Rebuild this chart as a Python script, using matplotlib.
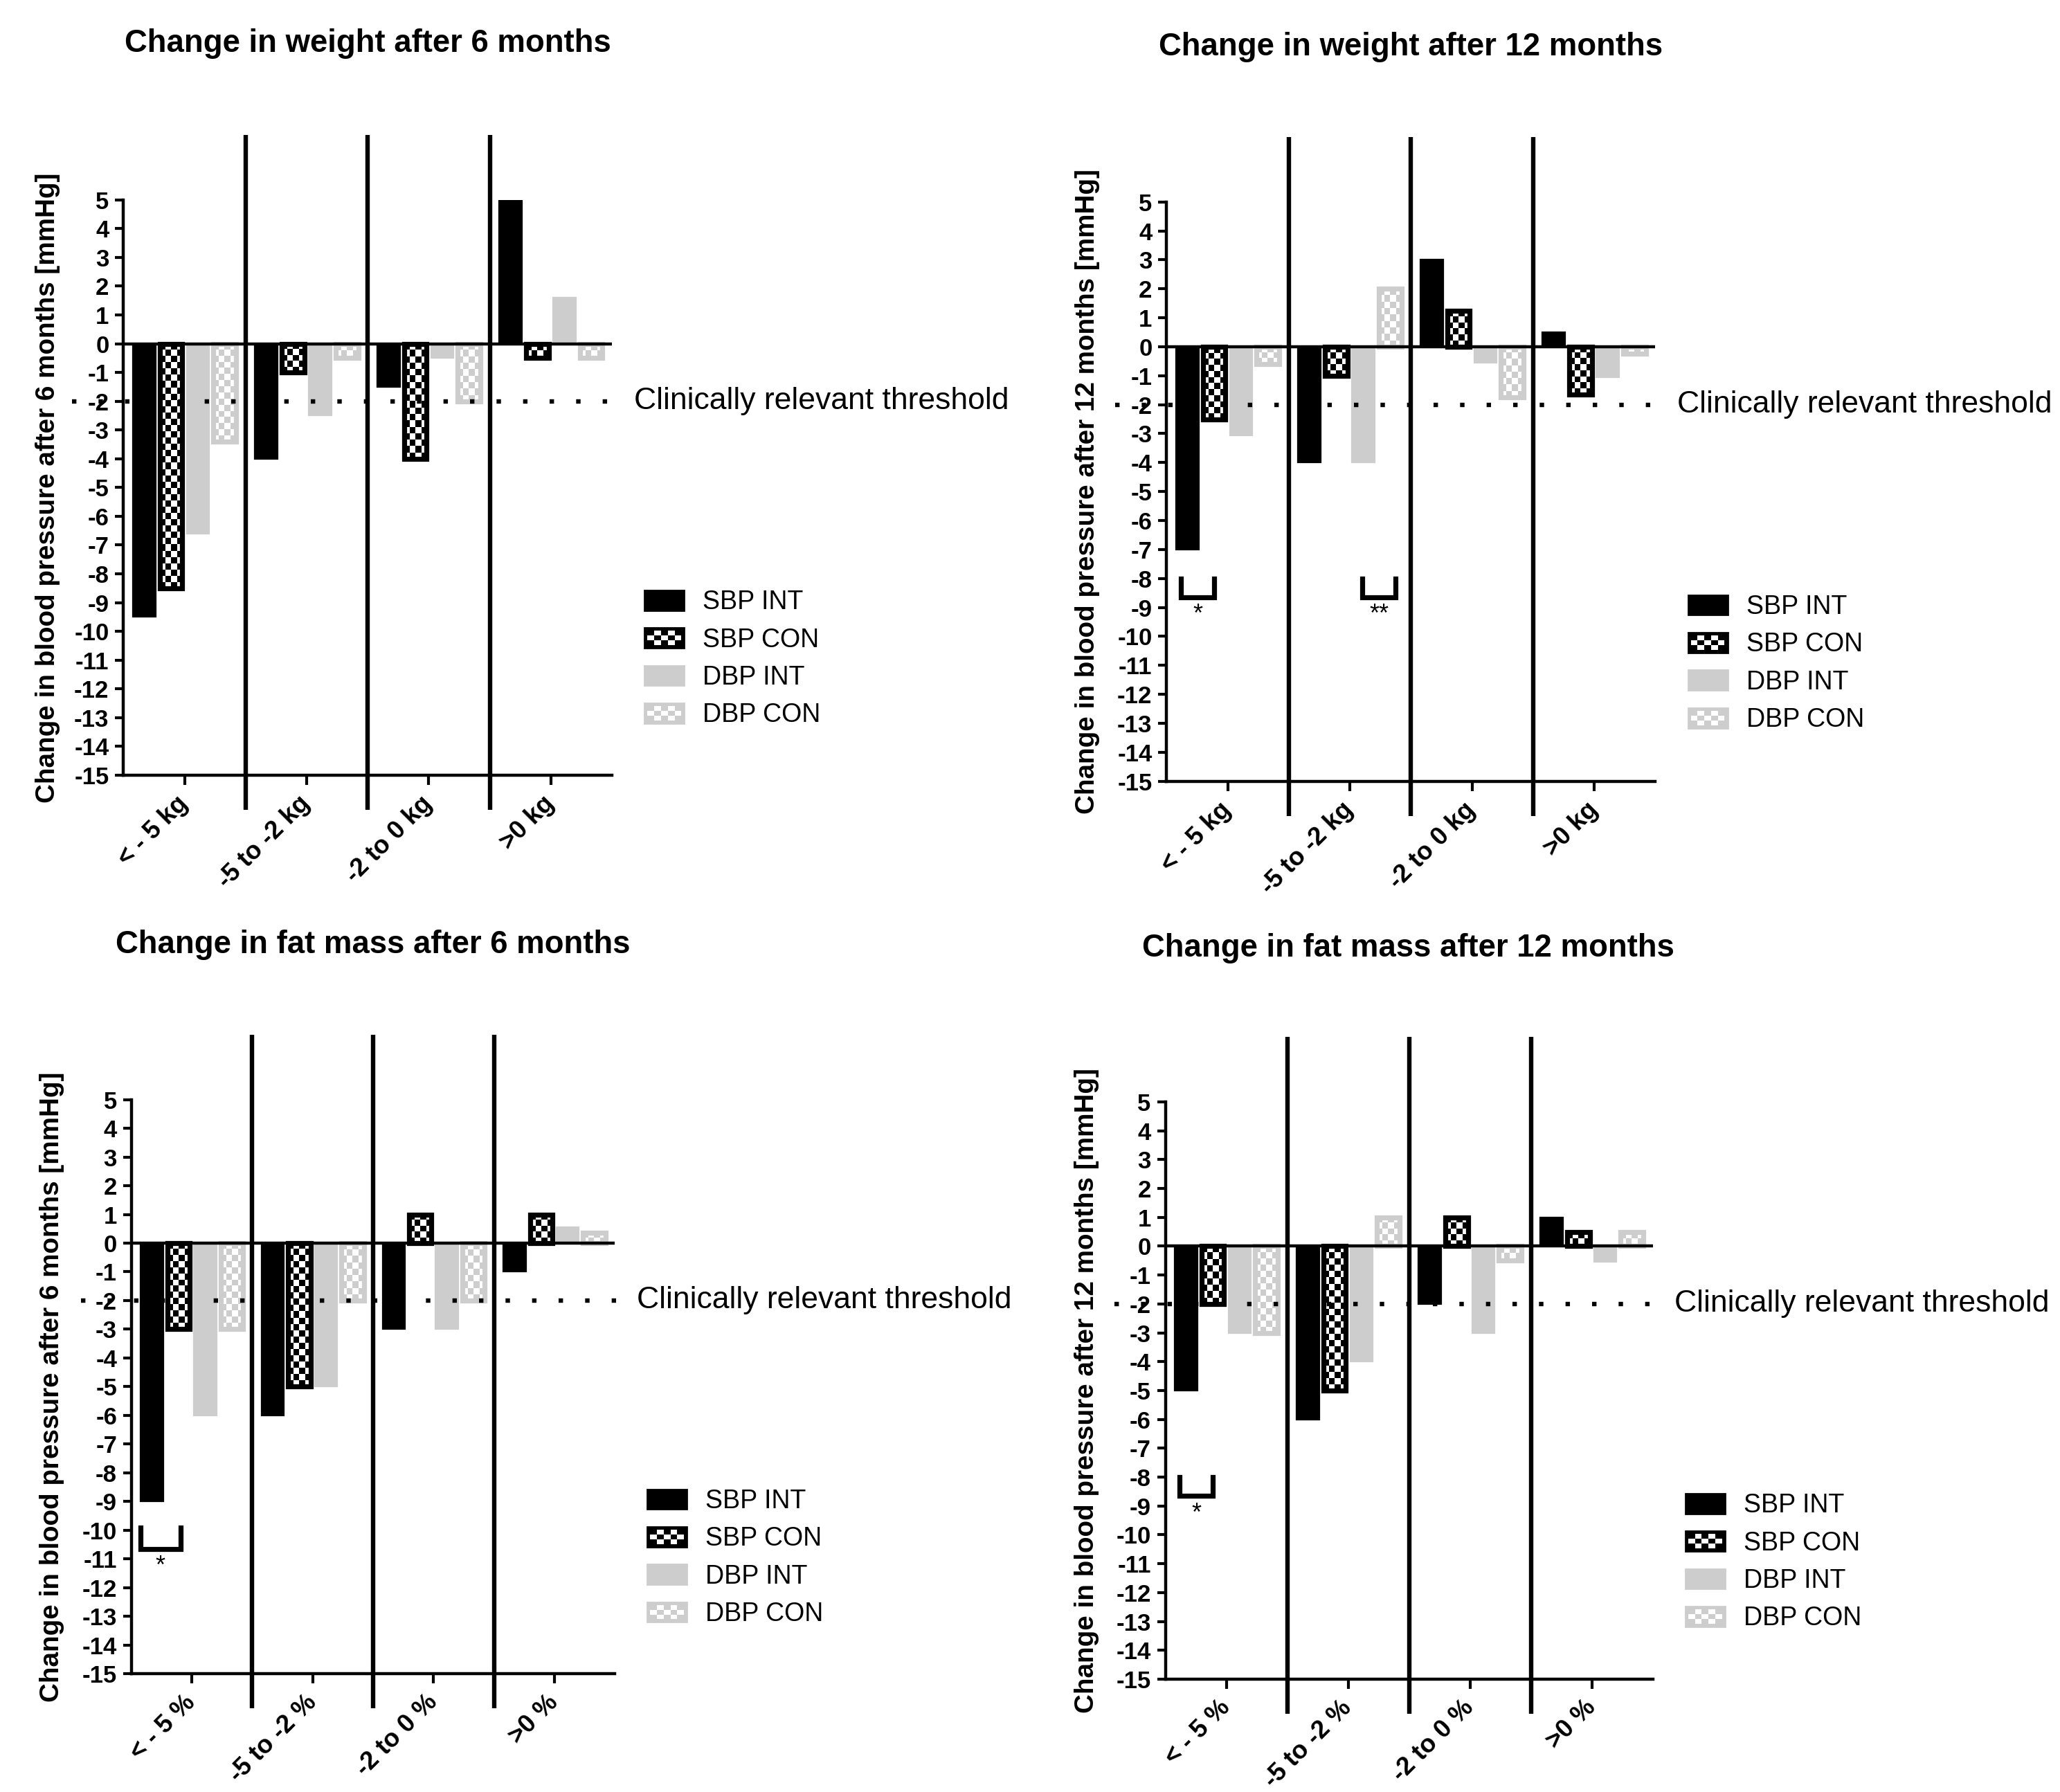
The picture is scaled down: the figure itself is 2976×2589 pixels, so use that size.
import numpy as np
import matplotlib
matplotlib.use("Agg")
import matplotlib.pyplot as plt
from matplotlib.colors import ListedColormap
from matplotlib.patches import Patch, Rectangle
from matplotlib.legend_handler import HandlerBase
from matplotlib.transforms import blended_transform_factory

plt.rcParams['font.family'] = ['Liberation Sans', 'DejaVu Sans']

# ---- data ----
series = ["SBP INT", "SBP CON", "DBP INT", "DBP CON"]
groups_kg = ["< - 5 kg", "-5 to -2 kg", "-2 to 0 kg", ">0 kg"]
groups_pct = ["< - 5 %", "-5 to -2 %", "-2 to 0 %", ">0 %"]

w6_sbp_int = [-9.5, -4, -1.5, 5]
w6_sbp_con = [-8.5, -1, -4, -0.5]
w6_dbp_int = [-6.6, -2.5, -0.5, 1.6]
w6_dbp_con = [-3.4, -0.5, -2, -0.5]

w12_sbp_int = [-7, -4, 3, 0.5]
w12_sbp_con = [-2.5, -1, 1.25, -1.65]
w12_dbp_int = [-3.05, -4, -0.55, -1.05]
w12_dbp_con = [-0.6, 2, -1.75, -0.25]

f6_sbp_int = [-9, -6, -3, -1]
f6_sbp_con = [-3, -5, 1, 1]
f6_dbp_int = [-6, -5, -3, 0.55]
f6_dbp_con = [-3, -2, -2, 0.35]

f12_sbp_int = [-5, -6, -2, 1]
f12_sbp_con = [-2, -5, 1, 0.5]
f12_dbp_int = [-3, -4, -3, -0.55]
f12_dbp_con = [-3, 1, -0.5, 0.5]

threshold = -2
threshold_label = "Clinically relevant threshold"

BLACK = "#000000"
GREY = "#cdcdcd"
offsets = [-0.33, -0.11, 0.11, 0.33]
bar_w = 0.185


class CheckerHandler(HandlerBase):
    def __init__(self, fg, bg="white"):
        super().__init__()
        self.fg = fg
        self.bg = bg

    def create_artists(self, legend, orig_handle, xdescent, ydescent,
                       width, height, fontsize, trans):
        x0, y0 = -xdescent, -ydescent
        arts = [Rectangle((x0, y0), width, height, facecolor=self.fg,
                          edgecolor=self.fg, lw=1, transform=trans)]
        ncols, nrows = 5, 3
        pad = height * 0.14
        cw = (width - 2 * pad) / ncols
        ch = (height - 2 * pad) / nrows
        for i in range(ncols):
            for j in range(nrows):
                if (i + j) % 2 == 1:
                    arts.append(Rectangle((x0 + pad + i * cw, y0 + pad + j * ch), cw, ch,
                                          facecolor=self.bg, edgecolor="none", transform=trans))
        return arts


def checker_bars(ax, x, vals, fg, bg="white", cell_px=9):
    bars = ax.bar(x, vals, bar_w, color=fg, edgecolor=fg, linewidth=0.8, zorder=2)
    for p in bars:
        x0, y0 = p.get_x(), p.get_y()
        w, h = p.get_width(), p.get_height()
        a = ax.transData.transform((x0, y0))
        b = ax.transData.transform((x0 + w, y0 + h))
        ncols = max(1, int(round(abs(b[0] - a[0]) / cell_px)))
        nrows = max(1, int(round(abs(b[1] - a[1]) / cell_px)))
        grid = np.add.outer(np.arange(nrows), np.arange(ncols)) % 2
        im = ax.imshow(grid, cmap=ListedColormap([fg, bg]), vmin=0, vmax=1,
                       extent=(x0, x0 + w, min(y0, y0 + h), max(y0, y0 + h)),
                       aspect="auto", interpolation="nearest", zorder=2.5)
        im.set_clip_path(p)
    ax.bar(x, vals, bar_w, facecolor="none", edgecolor=fg, linewidth=2.6, zorder=3)


def draw_panel(ax, title, title_xy, ylabel, ylabel_x, cats, sbp_int, sbp_con, dbp_int, dbp_con,
               brackets):
    ax.set_xlim(-0.5, 3.5)
    ax.set_ylim(-15, 5)
    ax.set_autoscale_on(False)
    x = np.arange(len(cats))

    ax.bar(x + offsets[0], sbp_int, bar_w, color=BLACK, edgecolor=BLACK, linewidth=0.8, zorder=2)
    checker_bars(ax, x + offsets[1], sbp_con, BLACK)
    ax.bar(x + offsets[2], dbp_int, bar_w, color=GREY, edgecolor=GREY, linewidth=0.8, zorder=2)
    checker_bars(ax, x + offsets[3], dbp_con, GREY)

    # zero line, group separators, threshold
    ax.axhline(0, color=BLACK, lw=1.6, zorder=4)
    ax.vlines([0.5, 1.5, 2.5], -16.2, 7.25, color=BLACK, lw=2.3, clip_on=False, zorder=4)
    ax.axhline(threshold, xmin=-0.105, xmax=1.01, color=BLACK, lw=2.3,
               linestyle=(0, (1, 5)), clip_on=False, zorder=5)
    tr = blended_transform_factory(ax.transAxes, ax.transData)
    ax.text(1.045, threshold, threshold_label, transform=tr, va="center", ha="left", fontsize=16)

    # significance brackets
    for x0, x1, top, bot, star in brackets:
        ax.plot([x0, x0, x1, x1], [top, bot, bot, top], color=BLACK, lw=2.6,
                solid_joinstyle="miter", zorder=4)
        ax.text((x0 + x1) / 2, bot - 0.2, star, ha="center", va="top", fontsize=13)

    for s in ["top", "right"]:
        ax.spines[s].set_visible(False)
    for s in ["left", "bottom"]:
        ax.spines[s].set_linewidth(1.6)

    ax.set_yticks(range(-15, 6))
    ax.set_yticklabels([str(v) for v in range(-15, 6)], fontsize=12.5, fontweight="bold")
    ax.set_xticks(x)
    ax.set_xticklabels(cats, rotation=45, ha="right", va="center", rotation_mode="anchor",
                       fontsize=13.2, fontweight="bold")
    ax.tick_params(axis="y", length=4.5, width=1.5, pad=3)
    ax.tick_params(axis="x", length=5, width=1.5, pad=8)

    ax.set_ylabel(ylabel, fontsize=13.9, fontweight="bold")
    ax.yaxis.set_label_coords(ylabel_x, 0.5)
    ax.figure.text(title_xy[0], title_xy[1], title, ha="center", va="center",
                   fontsize=16.4, fontweight="bold")

    handles = [Patch(facecolor=BLACK, edgecolor=BLACK),
               Patch(facecolor=BLACK),
               Patch(facecolor=GREY, edgecolor=GREY),
               Patch(facecolor=GREY)]
    hmap = {handles[1]: CheckerHandler(BLACK), handles[3]: CheckerHandler(GREY)}
    ax.legend(handles, series, handler_map=hmap, loc="upper left",
              bbox_to_anchor=(1.067, 0.322), borderaxespad=0, borderpad=0, frameon=False,
              fontsize=13.5, handlelength=1.52, handleheight=0.8, handletextpad=0.72,
              labelspacing=0.49)


fig = plt.figure(figsize=(14.88, 12.945), dpi=200)
ax1 = fig.add_axes([0.0599, 0.5674, 0.2372, 0.3211])
ax2 = fig.add_axes([0.5663, 0.5641, 0.2372, 0.3232])
ax3 = fig.add_axes([0.0638, 0.0660, 0.2347, 0.3204])
ax4 = fig.add_axes([0.5657, 0.0630, 0.2366, 0.3221])

draw_panel(ax1, "Change in weight after 6 months", (0.1786, 0.9758),
           "Change in blood pressure after 6 months [mmHg]", -0.129, groups_kg,
           w6_sbp_int, w6_sbp_con, w6_dbp_int, w6_dbp_con, [])
draw_panel(ax2, "Change in weight after 12 months", (0.6850, 0.9736),
           "Change in blood pressure after 12 months [mmHg]", -0.137, groups_kg,
           w12_sbp_int, w12_sbp_con, w12_dbp_int, w12_dbp_con,
           [(-0.38, -0.11, -8.0, -8.65, "*"), (1.10, 1.375, -8.0, -8.65, "**")])
draw_panel(ax3, "Change in fat mass after 6 months", (0.1811, 0.4729),
           "Change in blood pressure after 6 months [mmHg]", -0.139, groups_pct,
           f6_sbp_int, f6_sbp_con, f6_dbp_int, f6_dbp_con,
           [(-0.425, -0.095, -9.9, -10.66, "*")])
draw_panel(ax4, "Change in fat mass after 12 months", (0.6837, 0.4707),
           "Change in blood pressure after 12 months [mmHg]", -0.135, groups_pct,
           f12_sbp_int, f12_sbp_con, f12_dbp_int, f12_dbp_con,
           [(-0.385, -0.11, -8.0, -8.65, "*")])

fig.savefig("out.png", dpi=200, facecolor="white")
